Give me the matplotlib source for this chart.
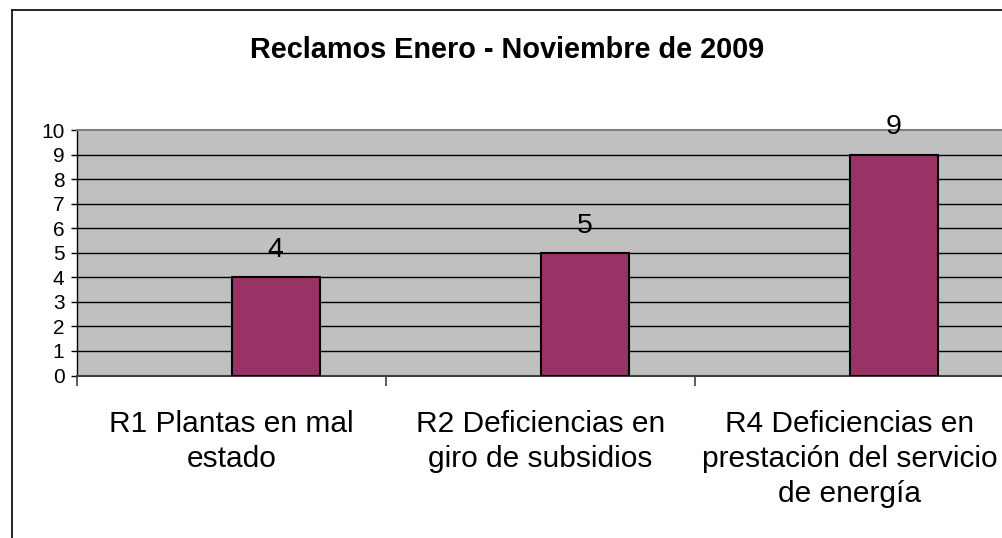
import matplotlib
matplotlib.use("Agg")
import matplotlib.pyplot as plt
from matplotlib.lines import Line2D
import numpy as np

titulo = "Reclamos Enero - Noviembre de 2009"
categorias = ["R1 Plantas en mal\nestado",
              "R2 Deficiencias en\ngiro de subsidios",
              "R4 Deficiencias en\nprestación del servicio\nde energía"]
reclamos = [4, 5, 9]
yticks = list(range(0, 11))

plt.rcParams['font.family'] = ['Liberation Sans', 'DejaVu Sans']

W, H = 1003, 538
fig = plt.figure(figsize=(W / 100, H / 100), dpi=100)

# area de grafico en pixeles: x 77..1004, y 130..375.5
ax = fig.add_axes([77 / W, (H - 375.5) / H, 927 / W, 245.5 / H])
ax.set_facecolor('#C0C0C0')

x = np.arange(len(categorias))
ancho = 1 / 3.5  # dos series por categoria, espacio 150 %
ax.bar(x + ancho / 2, reclamos, width=ancho, color='#993366',
       edgecolor='black', linewidth=1.5, zorder=3)

for xi, v in zip(x, reclamos):
    ax.annotate(str(v), (xi + ancho / 2, v), xytext=(0, 14.5),
                textcoords='offset points', ha='center', va='baseline',
                fontsize=20.5, zorder=4, annotation_clip=False)

ax.set_xlim(-0.5, 2.5)
ax.set_ylim(0, 10)
ax.set_yticks(yticks)
ax.tick_params(axis='y', length=4, width=1, pad=5, labelsize=15, color='black')

# separadores de categoria y etiquetas centradas
ax.set_xticks([-0.5, 0.5, 1.5])
ax.set_xticklabels([])
ax.tick_params(axis='x', which='major', length=7, width=1.2, color='#404040')
ax.set_xticks(x, minor=True)
ax.set_xticklabels(categorias, minor=True, fontsize=21.5, linespacing=1.32)
ax.tick_params(axis='x', which='minor', length=0, pad=24.5)

for yv in yticks[1:-1]:
    ax.axhline(yv, color='black', linewidth=1, zorder=1)

ax.spines['top'].set_color('#808080')
ax.spines['top'].set_linewidth(1.5)
ax.spines['right'].set_visible(False)
ax.spines['bottom'].set_color('#404040')
ax.spines['bottom'].set_linewidth(1.5)
ax.spines['left'].set_color('black')
ax.spines['left'].set_linewidth(1)

fig.text(507 / W, 1 - 58 / H, titulo, ha='center', va='baseline',
         fontsize=20.8, fontweight='bold')

# marco del grafico
fig.add_artist(Line2D([12.5 / W, 12.5 / W], [0, 1 - 10 / H], color='black',
                      linewidth=1.2, transform=fig.transFigure))
fig.add_artist(Line2D([12.5 / W, 1], [1 - 10 / H, 1 - 10 / H], color='black',
                      linewidth=1.2, transform=fig.transFigure))

fig.savefig('out.png', dpi=100)
